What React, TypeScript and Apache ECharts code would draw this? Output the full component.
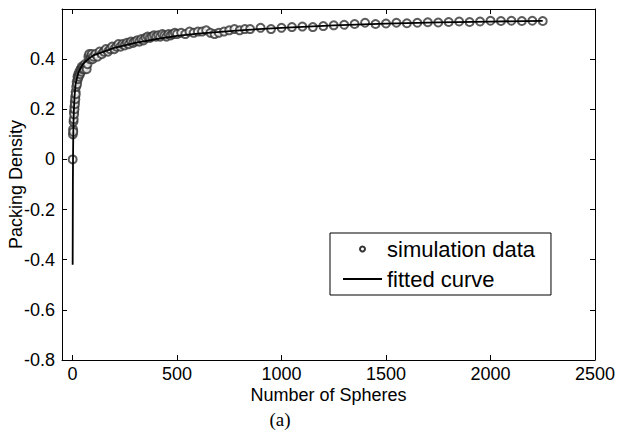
import React, { useEffect, useRef } from "react";
import * as echarts from "echarts";

const xTicks = [0, 500, 1000, 1500, 2000, 2500];
const yTicks = [-0.8, -0.6, -0.4, -0.2, 0, 0.2, 0.4];

const simN = [
  1, 2, 3, 4, 5, 6, 7, 8, 9, 10, 11, 12, 13, 14, 15, 16, 18, 20, 22, 24, 26, 28, 30, 33, 36, 39, 42, 45, 48, 52, 56, 60, 64, 68, 72, 76, 80, 84, 88, 92, 96, 100,
  110, 120, 130, 140, 150, 160, 170, 180, 190, 200, 210, 220, 230, 240, 250, 260, 270, 280, 290, 300, 310, 320, 330, 340, 350, 360, 370, 380, 390, 400,
  410, 420, 430, 440, 450, 460, 470, 480, 490, 500, 520, 540, 560, 580, 600, 620, 640, 660, 680, 700, 725, 750, 775, 800, 825, 850, 900, 950, 1000,
  1050, 1100, 1150, 1200, 1250, 1300, 1350, 1400, 1450, 1500, 1550, 1600, 1650, 1700, 1750, 1800, 1850, 1900, 1950, 2000, 2050, 2100, 2150, 2200, 2250,
];
const simV = [
  0.0, 0.1, 0.12, 0.11, 0.15, 0.16, 0.19, 0.18, 0.21, 0.2, 0.23, 0.22, 0.25, 0.24, 0.27, 0.26, 0.29, 0.31, 0.3, 0.33, 0.32, 0.34, 0.33, 0.35, 0.34, 0.36, 0.35, 0.37, 0.36, 0.37, 0.36, 0.38, 0.37, 0.36, 0.38, 0.41, 0.42, 0.4, 0.41, 0.42, 0.4, 0.41,
  0.42, 0.41, 0.43, 0.42, 0.43, 0.44, 0.43, 0.44, 0.45, 0.44, 0.45, 0.46, 0.45, 0.46, 0.455, 0.465, 0.46, 0.47, 0.465, 0.47, 0.475, 0.47, 0.48, 0.475, 0.485, 0.49, 0.485, 0.49, 0.495, 0.49,
  0.495, 0.49, 0.5, 0.495, 0.49, 0.5, 0.495, 0.5, 0.505, 0.5, 0.505, 0.5, 0.51, 0.505, 0.51, 0.51, 0.515, 0.505, 0.5, 0.505, 0.51, 0.515, 0.52, 0.515, 0.52, 0.52, 0.525, 0.52, 0.525,
  0.528, 0.53, 0.528, 0.532, 0.535, 0.537, 0.54, 0.545, 0.54, 0.542, 0.545, 0.543, 0.545, 0.547, 0.546, 0.548, 0.55, 0.548, 0.55, 0.553, 0.552, 0.553, 0.552, 0.553, 0.552,
];

const fitN = [1, 2, 3, 4, 5, 7, 10, 15, 20, 30, 50, 75, 100, 150, 200, 300, 400, 500, 600, 800, 1000, 1250, 1500, 1750, 2000, 2250];
const fitV = [-0.42, -0.1, 0.03, 0.1, 0.15, 0.2, 0.25, 0.3, 0.32, 0.35, 0.38, 0.4, 0.415, 0.43, 0.445, 0.465, 0.48, 0.493, 0.502, 0.515, 0.525, 0.535, 0.542, 0.547, 0.55, 0.553];

const FONT = "Liberation Sans";

export default function App() {
  const ref = useRef<HTMLDivElement>(null);
  useEffect(() => {
    if (!ref.current) return;
    const chart = echarts.init(ref.current, null, { renderer: "svg" });
    const axisLine = { show: true, onZero: false, lineStyle: { color: "#000", width: 1 } };
    chart.setOption({
      animation: false,
      backgroundColor: "#fff",
      grid: { left: 62, right: 23, top: 9, bottom: 74, containLabel: false, outerBoundsMode: "none" },
      xAxis: [
        {
          type: "value",
          min: -50,
          max: 2500,
          position: "bottom",
          axisLine,
          splitLine: { show: false },
          axisTick: { show: true, inside: true, length: 5, customValues: xTicks, lineStyle: { color: "#000" } },
          axisLabel: {
            customValues: xTicks,
            color: "#000",
            fontFamily: FONT,
            fontSize: 18,
            margin: 5,
            formatter: (v: number) => String(v),
          },
          name: "Number of Spheres",
          nameLocation: "middle",
          nameGap: 26,
          nameMoveOverlap: false,
          nameTextStyle: { color: "#000", fontFamily: FONT, fontSize: 18 },
        },
        {
          type: "value",
          min: -50,
          max: 2500,
          position: "top",
          axisLine,
          splitLine: { show: false },
          axisTick: { show: true, inside: true, length: 5, customValues: xTicks, lineStyle: { color: "#000" } },
          axisLabel: { show: false },
        },
      ],
      yAxis: [
        {
          type: "value",
          min: -0.8,
          max: 0.6,
          position: "left",
          axisLine,
          splitLine: { show: false },
          axisTick: { show: true, inside: true, length: 5, customValues: yTicks, lineStyle: { color: "#000" } },
          axisLabel: {
            customValues: yTicks,
            color: "#000",
            fontFamily: FONT,
            fontSize: 18,
            margin: 7,
            formatter: (v: number) => String(Math.round(v * 10) / 10),
          },
          name: "Packing Density",
          nameLocation: "middle",
          nameGap: 37,
          nameMoveOverlap: false,
          nameTextStyle: { color: "#000", fontFamily: FONT, fontSize: 18 },
        },
        {
          type: "value",
          min: -0.8,
          max: 0.6,
          position: "right",
          axisLine,
          splitLine: { show: false },
          axisTick: { show: true, inside: true, length: 5, customValues: yTicks, lineStyle: { color: "#000" } },
          axisLabel: { show: false },
        },
      ],
      legend: {
        orient: "vertical",
        left: 330,
        top: 233,
        backgroundColor: "#fff",
        borderColor: "#000",
        borderWidth: 1,
        borderRadius: 0,
        padding: [5, 16, 5, 13],
        itemWidth: 39,
        itemHeight: 5,
        itemGap: 8,
        itemTextGap: 16,
        textStyle: { color: "#000", fontFamily: FONT, fontSize: 22, lineHeight: 22 },
        data: [
          { name: "simulation data", icon: "emptyCircle", itemStyle: { color: "#000", borderColor: "#000", borderWidth: 0.8 } },
          { name: "fitted curve", icon: "path://M0,0L39,0L39,1.8L0,1.8Z", itemStyle: { color: "#000", borderWidth: 0 } },
        ],
      },
      series: [
        {
          name: "simulation data",
          type: "scatter",
          xAxisIndex: 0,
          yAxisIndex: 0,
          symbol: "emptyCircle",
          symbolSize: 8,
          itemStyle: { color: "#333", borderWidth: 0.9 },
          data: simN.map((n, i) => [n, simV[i]]),
          z: 2,
        },
        {
          name: "fitted curve",
          type: "line",
          xAxisIndex: 0,
          yAxisIndex: 0,
          showSymbol: false,
          symbol: "none",
          lineStyle: { color: "#000", width: 1.8 },
          itemStyle: { color: "#000" },
          data: fitN.map((n, i) => [n, fitV[i]]),
          z: 3,
        },
      ],
      graphic: [
        {
          type: "text",
          x: 280,
          y: 419,
          style: {
            text: "(a)",
            font: '19px "Liberation Serif"',
            fill: "#000",
            align: "center",
            verticalAlign: "middle",
          },
        },
      ],
    });
    return () => chart.dispose();
  }, []);
  return <div ref={ref} style={{ width: 618, height: 434, position: "absolute", left: 0, top: 0 }} />;
}
